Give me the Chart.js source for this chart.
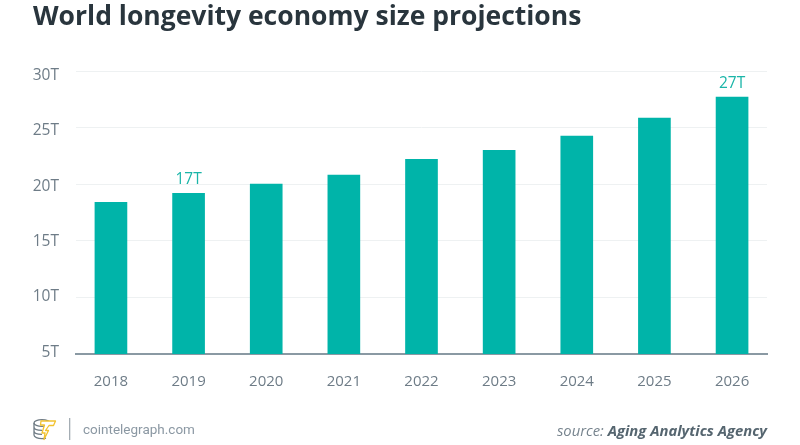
<!DOCTYPE html>
<html>
<head>
<meta charset="utf-8">
<style>
  html, body { margin: 0; padding: 0; background: #fff; width: 800px; height: 445px; overflow: hidden; }
  #cadre { position: relative; width: 800px; height: 445px; }
  #chart { position: absolute; left: 0; top: 0; }
  .txt { position: absolute; white-space: nowrap; }
  #titre { left: 33px; top: -1px; font: 700 26.5px "Open Sans", sans-serif; color: #29353d; line-height: 32px; }
  #site { left: 83px; top: 421px; font: 400 13.5px Roboto, sans-serif; color: #8b98a3; line-height: 16px; }
  #source { right: 33px; top: 420px; font: italic 400 14.8px "Open Sans", sans-serif; color: #77848e; line-height: 20px; }
  #source b { font-weight: 700; color: #55656f; }
  #logo { position: absolute; left: 32px; top: 418px; }
</style>
</head>
<body>
<div id="cadre">
  <canvas id="chart" width="800" height="445"></canvas>
  <div class="txt" id="titre">World longevity economy size projections</div>
  <svg id="logo" width="44" height="26" viewBox="0 0 44 26">
    <g fill="none" stroke="#6f7b84" stroke-width="1.3">
      <ellipse cx="10" cy="5" rx="8" ry="3.4"/>
      <path d="M2 5v12c0 2 3.6 3.6 8 3.6 1.5 0 3-.2 4-.5M2 9c0 2 3.6 3.4 8 3.4M2 13c0 2 3.6 3.4 8 3.4"/>
    </g>
    <path d="M9 3h14.5l-2 4.5h-4.5l-3.5 5h3l-4.5 9 1-6.5h-3l2.5-8h-4z" fill="#fff" stroke="#f2c230" stroke-width="1.3" stroke-linejoin="round"/>
    <rect x="37" y="0" width="1.3" height="22" fill="#a4adb4"/>
  </svg>
  <div class="txt" id="site">cointelegraph.com</div>
  <div class="txt" id="source">source: <b>Aging Analytics Agency</b></div>
</div>

<script src="https://cdn.jsdelivr.net/npm/chart.js@4"></script>
<script>
const annees = [2018, 2019, 2020, 2021, 2022, 2023, 2024, 2025, 2026];
const valeurs = [18.4, 19.2, 20.0, 20.8, 22.2, 23.0, 24.25, 25.85, 27.7];
const etiquettes = ['', '17T', '', '', '', '', '', '', '27T'];
const graduationsY = [5, 10, 15, 20, 25, 30];

const etiquettesBarres = {
  id: 'etiquettesBarres',
  afterDatasetsDraw(chart) {
    const { ctx, scales } = chart;
    ctx.save();
    ctx.font = '400 15.5px "Open Sans", sans-serif';
    ctx.fillStyle = '#1ab5a8';
    ctx.textAlign = 'center';
    ctx.textBaseline = 'bottom';
    etiquettes.forEach((texte, i) => {
      if (!texte) return;
      ctx.fillText(texte, scales.x.getPixelForValue(annees[i]), scales.y.getPixelForValue(valeurs[i]) - 6);
    });
    ctx.restore();
  },
};

new Chart(document.getElementById('chart').getContext('2d'), {
  type: 'bar',
  data: {
    datasets: [{
      data: annees.map((annee, i) => ({ x: annee, y: valeurs[i] })),
      backgroundColor: '#00b4a9',
      barThickness: 32,
    }],
  },
  options: {
    responsive: false,
    animation: false,
    devicePixelRatio: 1,
    layout: { padding: { left: 33, right: 33, top: 71, bottom: 0 } },
    plugins: { legend: { display: false }, tooltip: { enabled: false }, title: { display: false } },
    scales: {
      x: {
        type: 'linear',
        offset: false,
        min: 2017.55,
        max: 2026.45,
        afterBuildTicks: (axe) => { axe.ticks = annees.map((value) => ({ value })); },
        afterFit: (axe) => { axe.height = 91; },
        grid: { display: false },
        border: { color: '#8a99a3', width: 2 },
        ticks: {
          padding: 11,
          maxRotation: 0,
          autoSkip: false,
          callback: (v) => String(v),
          color: '#6e7c87',
          font: { family: '"Open Sans"', size: 15 },
        },
      },
      y: {
        min: 5,
        max: 30,
        afterBuildTicks: (axe) => { axe.ticks = graduationsY.map((value) => ({ value })); },
        afterFit: (axe) => { axe.width = 0; },
        grid: { color: '#eef1f2', lineWidth: 1, drawTicks: false },
        border: { display: false },
        ticks: { display: false },
      },
      // axe séparé pour les libellés : dans l'original ils ne tombent pas tout à fait sur les lignes
      yLibelles: {
        position: 'left',
        min: 4.84,
        max: 30.41,
        afterBuildTicks: (axe) => { axe.ticks = graduationsY.map((value) => ({ value })); },
        afterFit: (axe) => { axe.width = 43; },
        grid: { display: false, drawTicks: false },
        border: { display: false },
        ticks: {
          padding: 17,
          callback: (v) => v + 'T',
          color: '#6e7c87',
          font: { family: '"Open Sans"', size: 15.5 },
        },
      },
    },
  },
  plugins: [etiquettesBarres],
});
</script>
</body>
</html>
